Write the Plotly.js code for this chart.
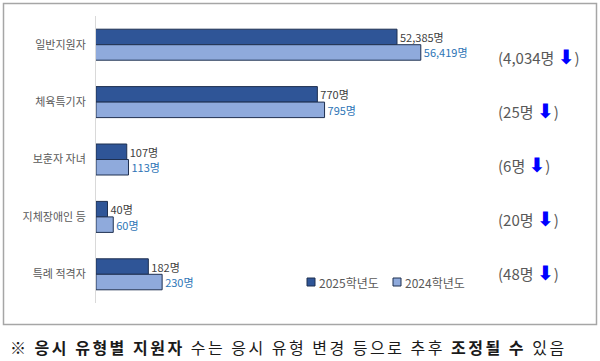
<!DOCTYPE html>
<html><head><meta charset="utf-8">
<script src="https://cdn.plot.ly/plotly-3.0.1.min.js"></script>
<style>
body{margin:0;background:#fff}
#wrap{position:relative;width:600px;height:361px}
#chart{width:600px;height:361px}
#note{position:absolute;left:10px;top:336px;font-family:'Noto Sans CJK KR',sans-serif;font-size:16px;color:#1a1a1a;letter-spacing:2.5px;word-spacing:0px;white-space:nowrap;line-height:22px}
</style>
</head><body>
<div id="wrap">
<div id="chart"></div>
<div id="note">※ <b>응시 유형별 지원자</b> 수는 응시 유형 변경 등으로 추후 <b>조정될 수</b> 있음</div>
</div>
<script>
const categories = ['일반지원자', '체육특기자', '보훈자 자녀', '지체장애인 등', '특례 적격자'];
const series2025 = [52385, 770, 107, 40, 182];
const series2024 = [56419, 795, 113, 60, 230];
const seriesNames = ['2025학년도', '2024학년도'];
const unit = '명';

const W = 600, H = 361;
const M = {l: 96, r: 110, t: 16, b: 58};
const PW = W - M.l - M.r, PH = H - M.t - M.b;
const px2x = p => (p - M.l) / PW;
const py2y = p => 1 - (p - M.t) / PH;

const FONT = 'Noto Sans CJK KR, sans-serif';
const fill25 = '#2F5597', fill24 = '#8FAADC', edge = '#1F3050';
const txt25 = '#404040', txt24 = '#2E75B6';
const fmt = v => v.toLocaleString('en-US') + unit;

function barTrace(vals, idx, name, fill, tcol, axis) {
  return {
    type: 'bar', orientation: 'h', name: name, showlegend: false,
    y: idx.map(i => categories[i]), x: idx.map(i => vals[i]),
    text: idx.map(i => fmt(vals[i])), textposition: 'outside', constraintext: 'none',
    cliponaxis: false, textfont: {family: FONT, size: 11, color: tcol},
    marker: {color: fill, line: {color: edge, width: 1}},
    xaxis: axis, hoverinfo: 'skip'
  };
}
const small = [1, 2, 3, 4], big = [0];
const data = [
  barTrace(series2025, small, seriesNames[0], fill25, txt25, 'x'),
  barTrace(series2024, small, seriesNames[1], fill24, txt24, 'x'),
  barTrace(series2025, big, seriesNames[0], fill25, txt25, 'x2'),
  barTrace(series2024, big, seriesNames[1], fill24, txt24, 'x2')
];

const annotations = categories.map((c, i) => ({
  xref: 'paper', yref: 'paper', x: px2x(496), y: py2y(57 + i * 54),
  xanchor: 'left', yanchor: 'middle', showarrow: false,
  text: '(' + (series2024[i] - series2025[i]).toLocaleString('en-US') + unit +
        ' <span style="color:#0000FF;font-family:DejaVu Sans;font-size:20px;font-weight:bold">⬇</span>)',
  font: {family: FONT, size: 15, color: '#595959'}
}));

// legend (custom, to match the compact marker/text spacing)
const legendFills = [fill25, fill24];
const legendX = [307, 393];
const shapes = [{type: 'rect', xref: 'paper', yref: 'paper', x0: px2x(3.5), x1: px2x(596.5),
                 y0: py2y(3.5), y1: py2y(324.5), line: {color: '#A6A6A6', width: 1.5}, layer: 'below'}];
seriesNames.forEach((n, k) => {
  shapes.push({type: 'rect', xref: 'paper', yref: 'paper',
               x0: px2x(legendX[k]), x1: px2x(legendX[k] + 8), y0: py2y(278), y1: py2y(286),
               fillcolor: legendFills[k], line: {color: edge, width: 1}});
  annotations.push({xref: 'paper', yref: 'paper', x: px2x(legendX[k] + 10), y: py2y(282),
                    xanchor: 'left', yanchor: 'middle', showarrow: false, text: n,
                    font: {family: FONT, size: 12, color: '#595959'}});
});

const layout = {
  width: W, height: H, margin: M,
  paper_bgcolor: '#fff', plot_bgcolor: '#fff',
  barmode: 'group', bargap: 0.46, bargroupgap: 0,
  font: {family: FONT},
  showlegend: false,
  xaxis: {range: [0, PW / 0.2875], visible: false, fixedrange: true},
  xaxis2: {range: [1368, 1368 + PW / 0.0059], overlaying: 'x', visible: false, fixedrange: true},
  yaxis: {type: 'category', categoryorder: 'array', categoryarray: categories, autorange: 'reversed',
          showline: true, linecolor: '#D9D9D9', linewidth: 1, showgrid: false, zeroline: false,
          ticks: '', ticklen: 0, ticklabelstandoff: 7,
          tickfont: {family: FONT, size: 11, color: '#595959'}, automargin: false},
  annotations: annotations,
  shapes: shapes
};
Plotly.newPlot('chart', data, layout, {displayModeBar: false, staticPlot: true});
</script>
</body></html>
